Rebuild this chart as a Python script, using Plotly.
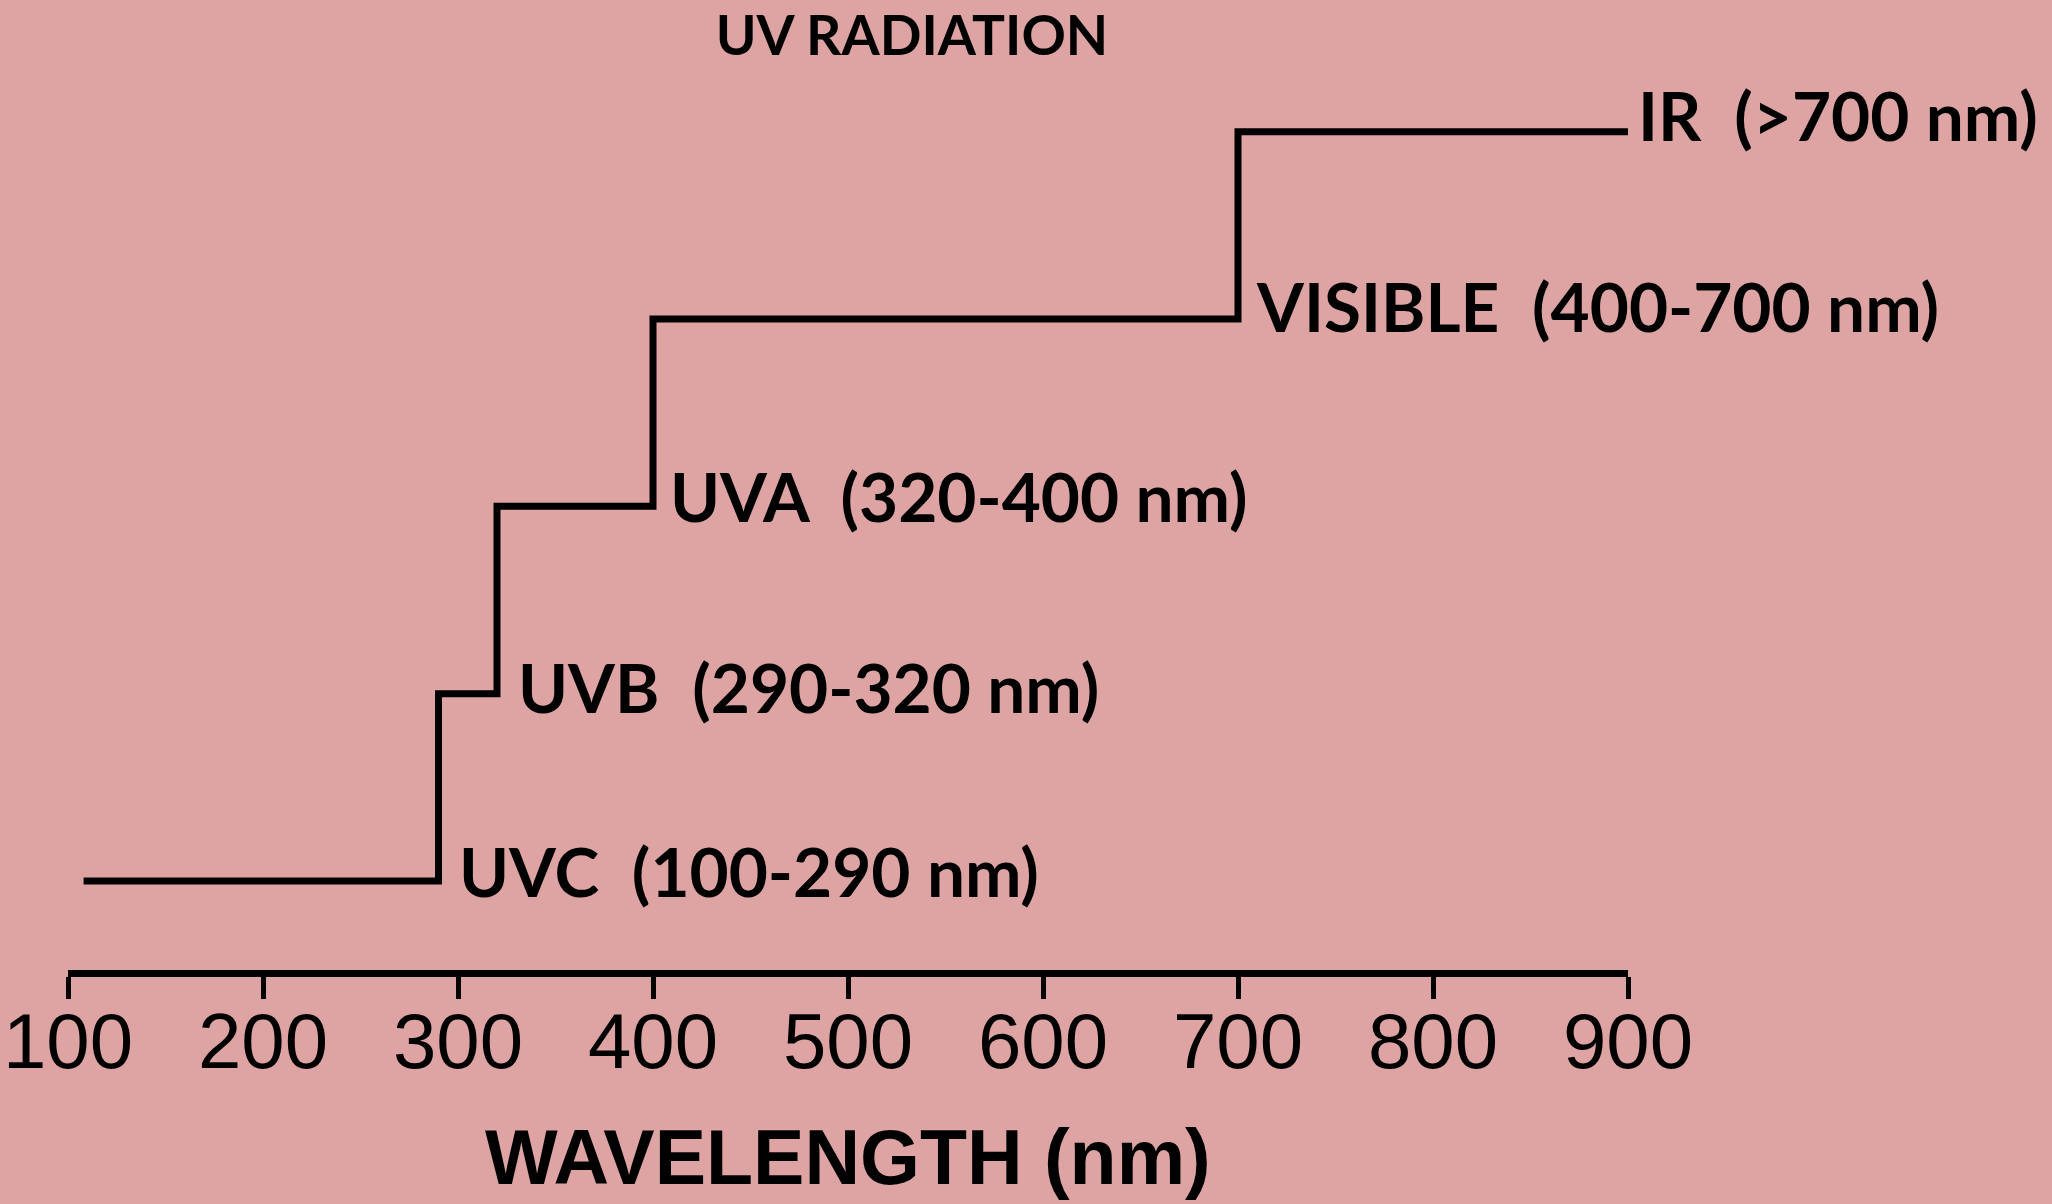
import plotly.graph_objects as go

# ---- data ----
band_names = ["UVC", "UVB", "UVA", "VISIBLE", "IR"]
band_ranges = ["(100-290 nm)", "(290-320 nm)", "(320-400 nm)", "(400-700 nm)", "(>700 nm)"]
band_start = [108, 290, 320, 400, 700]   # nm, where each step begins
band_end = [290, 320, 400, 700, 900]     # nm, where each step ends
band_level = [1, 2, 3, 4, 5]
tick_values = [100, 200, 300, 400, 500, 600, 700, 800, 900]
tick_labels = ["100", "200", "300", "400", "500", "600", "700", "800", "900"]
chart_title = "UV RADIATION"
x_title = "WAVELENGTH (nm)"

BG = "#DEA3A3"
W, H = 2052, 1204
ML, MR, MT, MB = 68, 424, 38, 234

# step line built from the band arrays
xs = band_start + [band_end[-1]]
ys = band_level + [band_level[-1]]

fig = go.Figure()
fig.add_trace(go.Scatter(
    x=xs, y=ys, mode="lines",
    line=dict(shape="hv", color="black", width=7),
    hoverinfo="skip", showlegend=False,
))

# label offsets (pixels)
x_shifts = [18, 19, 15, 16, 8]
y_shifts = [10.5, 7, 10.5, 13.5, 17.5]

annotations = []
for name, rng, xe, lvl, dx, dy in zip(band_names, band_ranges, band_end, band_level, x_shifts, y_shifts):
    annotations.append(dict(
        x=xe, y=lvl, xref="x", yref="y",
        text=name + "\u00a0\u00a0" + rng,
        showarrow=False, xanchor="left", yanchor="middle",
        xshift=dx, yshift=dy,
        font=dict(family="Lato", size=67.5, color="black", weight="bold"),
    ))

plot_h = H - MT - MB
annotations.append(dict(
    x=0.5, xref="paper", yref="paper",
    y=(H - MB - 1157) / plot_h,
    text=x_title, showarrow=False, xanchor="center", yanchor="middle",
    font=dict(family="Liberation Sans, Arial", size=77,
              color="black", weight="bold"),
))

fig.update_layout(
    width=W, height=H,
    margin=dict(l=ML, r=MR, t=MT, b=MB, pad=0, autoexpand=False),
    paper_bgcolor=BG, plot_bgcolor=BG,
    title=dict(
        text=chart_title, x=912 / W, xref="container", xanchor="center",
        y=1 - 35.5 / H, yref="container", yanchor="middle",
        font=dict(family="Lato", size=55, color="black", weight="bold"),
    ),
    annotations=annotations,
    showlegend=False,
)

fig.update_xaxes(
    range=[100, 900], tickvals=tick_values, ticktext=tick_labels,
    showgrid=False, zeroline=False, automargin=False,
    showline=True, linecolor="black", linewidth=7,
    ticks="outside", ticklen=22, tickwidth=4.5, tickcolor="black",
    ticklabeloverflow="allow", ticklabelstandoff=-25,
    tickfont=dict(family="Liberation Sans, Arial", size=78, color="black"),
)
fig.update_yaxes(
    range=[0.525, 5.5], visible=False, showgrid=False, zeroline=False,
    automargin=False,
)

fig.write_html(
    "out.html",
    config={"displayModeBar": False},
    post_script="document.body.style.margin='0';document.body.style.overflow='hidden';",
)
